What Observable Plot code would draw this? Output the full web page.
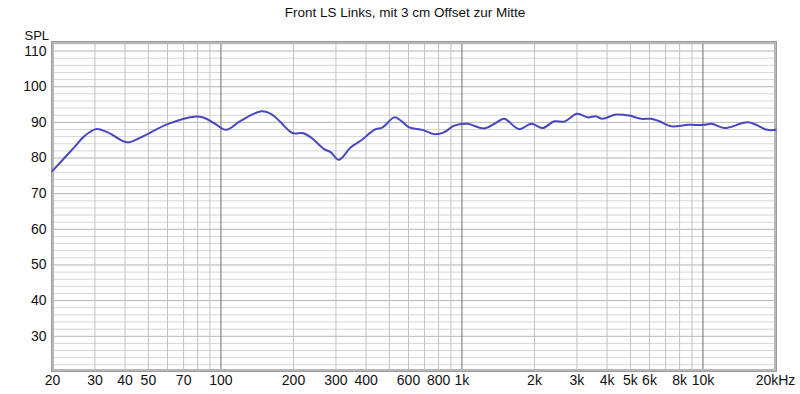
<!DOCTYPE html>
<html>
<head>
<meta charset="utf-8">
<script src="https://cdn.jsdelivr.net/npm/d3@7"></script>
<script src="https://cdn.jsdelivr.net/npm/@observablehq/plot@0.6"></script>
<style>
  body { margin: 0; background: #fff; font-family: "Liberation Sans", Arial, sans-serif; }
  #title { height: 22px; line-height: 26px; font-size: 13.5px; color: #111; text-align: center; padding-left: 10px; width: 790px; }
  svg { display: block; }
</style>
</head>
<body>
<div id="title">Front LS Links, mit 3 cm Offset zur Mitte</div>
<div id="chart"></div>
<script>
const freq = [20, 24.6, 27, 30.3, 33.9, 40.7, 46.6, 60, 77.5, 85, 94, 105, 121, 147, 163, 177, 198, 218, 236, 268, 286, 308, 346, 381, 433, 469, 524, 558, 604, 686, 767, 842, 929, 1055, 1234, 1496, 1547, 1728, 1940, 2160, 2416, 2658, 3004, 3328, 3585, 3830, 4350, 4940, 5535, 6090, 6600, 7380, 8670, 10160, 10840, 12300, 15380, 18500, 20000];
const spl  = [76.4, 83.0, 86.0, 88.1, 87.2, 84.4, 85.8, 89.5, 91.6, 91.3, 89.7, 87.9, 90.5, 93.1, 92.2, 90.0, 87.0, 87.0, 85.8, 82.5, 81.6, 79.5, 83.0, 84.9, 87.9, 88.6, 91.4, 90.5, 88.6, 87.9, 86.7, 87.2, 89.1, 89.6, 88.3, 91.0, 90.5, 88.1, 89.6, 88.4, 90.3, 90.2, 92.4, 91.4, 91.7, 91.0, 92.2, 91.9, 91.0, 91.0, 90.3, 88.9, 89.3, 89.3, 89.6, 88.4, 90.0, 87.9, 87.9];

const xTicks = [20, 30, 40, 50, 70, 100, 200, 300, 400, 600, 800, 1000, 2000, 3000, 4000, 5000, 6000, 8000, 10000, 20000];
const xTickLabels = ["20", "30", "40", "50", "70", "100", "200", "300", "400", "600", "800", "1k", "2k", "3k", "4k", "5k", "6k", "8k", "10k", "20kHz"];
const xMinorGrid = [30, 40, 50, 60, 70, 80, 90, 200, 300, 400, 500, 600, 700, 800, 900, 2000, 3000, 4000, 5000, 6000, 7000, 8000, 9000];
const xMajorGrid = [100, 1000, 10000];
const yTicks = [30, 40, 50, 60, 70, 80, 90, 100, 110];
const yMinorGrid = [22, 24, 26, 28, 32, 34, 36, 38, 42, 44, 46, 48, 52, 54, 56, 58, 62, 64, 66, 68, 72, 74, 76, 78, 82, 84, 86, 88, 92, 94, 96, 98, 102, 104, 106, 108, 112];

const data = freq.map((f, i) => ({f, v: spl[i]}));
const xLabelData = xTicks.map((t, i) => ({t, label: xTickLabels[i]}));

const chart = Plot.plot({
  width: 800,
  height: 372,
  marginTop: 20,
  marginBottom: 24,
  marginLeft: 52,
  marginRight: 25,
  style: {fontFamily: "'Liberation Sans', Arial, sans-serif", fontSize: "14px", color: "#111", background: "#fff"},
  x: {type: "log", domain: [20, 20000], axis: null},
  y: {domain: [20.4, 112.4], ticks: yTicks, tickSize: 0, tickPadding: 6, label: null},
  marks: [
    Plot.ruleY(yMinorGrid, {stroke: "#d6d6d6", strokeWidth: 1}),
    Plot.ruleY(yTicks, {stroke: "#b4b4b4", strokeWidth: 1}),
    Plot.ruleX(xMinorGrid, {stroke: "#c2c2c2", strokeWidth: 1}),
    Plot.ruleX(xMajorGrid, {stroke: "#6e6e6e", strokeWidth: 1}),
    Plot.frame({stroke: "#b8b8b8", strokeWidth: 3}),
    Plot.frame({stroke: "#9a9a9a", strokeWidth: 1, inset: -1}),
    Plot.line(data, {x: "f", y: "v", stroke: "#4747c2", strokeWidth: 2, curve: "catmull-rom"}),
    Plot.text(xLabelData, {x: "t", text: "label", frameAnchor: "bottom", dy: 14, fontSize: 14, fill: "#111"}),
    Plot.text(["SPL"], {frameAnchor: "top-left", dx: -28, dy: -12, fontSize: 13, fill: "#111"})
  ]
});
document.getElementById("chart").appendChild(chart);
</script>
</body>
</html>
